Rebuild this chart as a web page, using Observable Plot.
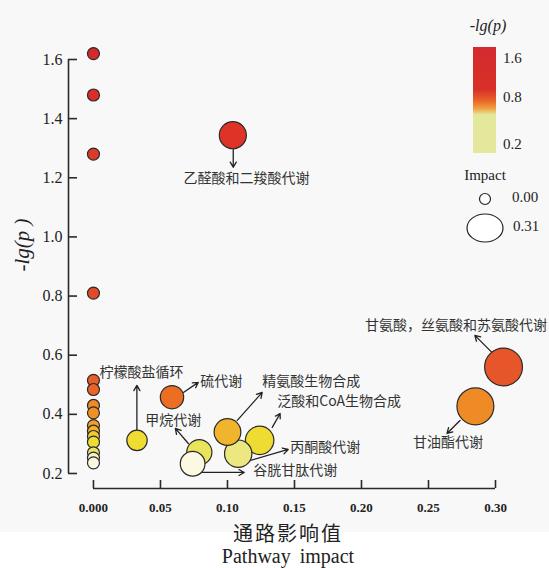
<!DOCTYPE html>
<html>
<head>
<meta charset="utf-8">
<script src="https://cdn.jsdelivr.net/npm/d3@7"></script>
<script src="https://cdn.jsdelivr.net/npm/@observablehq/plot@0.6"></script>
<style>
  body { margin: 0; background: #fff; }
  #wrap { position: relative; width: 549px; height: 568px; overflow: hidden; background: #fff; }
  #bg { position: absolute; left: 0; top: 0; width: 549px; height: 532px; background: #f8f8f8; }
  #chart { position: absolute; left: 0; top: 0; }
  #legend { position: absolute; left: 0; top: 0; pointer-events: none; }
  .title { position: absolute; left: 0; width: 576px; text-align: center; color: #222; }
  #xt1 { top: 520px; font-family: "Noto Sans CJK SC", sans-serif; font-size: 20px; letter-spacing: 2px; line-height: 26px; }
  #xt2 { top: 545px; font-family: "Liberation Serif", serif; font-size: 20px; line-height: 22px; word-spacing: 4px; }
  #yt { position: absolute; left: 22px; top: 245px; transform: translate(-50%, -50%) rotate(-90deg); font-family: "Liberation Serif", serif; font-style: italic; font-size: 21px; color: #222; white-space: nowrap; }
</style>
</head>
<body>
<div id="wrap">
  <div id="bg"></div>
  <div id="chart"></div>
  <svg id="legend" width="549" height="568"></svg>
  <div class="title" id="xt1">通路影响值</div>
  <div class="title" id="xt2">Pathway  impact</div>
  <div id="yt">-lg(p )</div>
</div>
<script>
// ---- data ----
const pathways = ["乙醛酸和二羧酸代谢", "柠檬酸盐循环", "硫代谢", "精氨酸生物合成", "泛酸和CoA生物合成", "丙酮酸代谢", "甲烷代谢", "谷胱甘肽代谢", "甘氨酸，丝氨酸和苏氨酸代谢", "甘油酯代谢"];
const pathwayImpact = [0.104, 0.0325, 0.0586, 0.100, 0.124, 0.108, 0.079, 0.074, 0.306, 0.285];
const pathwayLgP = [1.344, 0.312, 0.458, 0.340, 0.312, 0.267, 0.272, 0.233, 0.560, 0.427];
const zeroImpactLgP = [1.62, 1.48, 1.28, 0.81, 0.515, 0.484, 0.43, 0.405, 0.362, 0.343, 0.325, 0.306, 0.27, 0.252, 0.236];

// label annotation anchors (data units): label start, arrow start, arrow end
const labelX = [0.0671, 0.0045, 0.0797, 0.1259, 0.1371, 0.1468, 0.0387, 0.1192, 0.2027, 0.2385];
const labelY = [1.198, 0.5418, 0.5113, 0.5113, 0.4437, 0.288, 0.3794, 0.2102, 0.7008, 0.3049];
const arrowX1 = [0.1043, 0.0324, 0.0671, 0.1073, 0.1334, 0.1170, 0.0708, 0.0812, 0.2973, 0.2735];
const arrowY1 = [1.2965, 0.3455, 0.4741, 0.3794, 0.3557, 0.2440, 0.3015, 0.2034, 0.6095, 0.3794];
const arrowX2 = [0.1043, 0.0324, 0.0782, 0.1259, 0.1393, 0.1453, 0.0611, 0.1125, 0.2846, 0.2638];
const arrowY2 = [1.2355, 0.4978, 0.5080, 0.4741, 0.4030, 0.2812, 0.3523, 0.2034, 0.6670, 0.3354];

const xTicks = [0, 0.05, 0.10, 0.15, 0.20, 0.25, 0.30];
const xTickLabels = ["0.000", "0.05", "0.10", "0.15", "0.20", "0.25", "0.30"];
const yTicks = [0.2, 0.4, 0.6, 0.8, 1.0, 1.2, 1.4, 1.6];
const yTickLabels = ["0.2", "0.4", "0.6", "0.8", "1.0", "1.2", "1.4", "1.6"];

const colorStops = [0.23, 0.255, 0.268, 0.275, 0.31, 0.325, 0.345, 0.365, 0.43, 0.46, 0.5, 0.6, 0.85, 1.3, 1.35, 1.62];
const colorValues = ["#fcfae6", "#f6f2c4", "#ebe67a", "#e9e245", "#efde32", "#f0cc32", "#f0ae2c", "#f09c2a", "#ef8a26", "#eb6c22", "#e8602a", "#e4502a", "#e04a28", "#dd3a2a", "#df3228", "#d42a2e"];

const legendStops = [0.2, 0.8, 1.6];
const legendImpacts = [0.00, 0.31];

// ---- tables ----
const points = [
  ...zeroImpactLgP.map(v => ({impact: 0, lgp: v})),
  ...pathways.map((p, i) => ({impact: pathwayImpact[i], lgp: pathwayLgP[i]}))
];
const notes = pathways.map((p, i) => ({
  name: p, lx: labelX[i], ly: labelY[i],
  x1: arrowX1[i], y1: arrowY1[i], x2: arrowX2[i], y2: arrowY2[i]
}));

const W = 549, H = 530, mL = 68, mR = 54, mT = 59, mB = 42;
const xDomain = [-0.01863, 0.30];
const yDomain = [0.1492, 1.6];
const axisColor = "#2a2a2a";

const chart = Plot.plot({
  width: W,
  height: H,
  marginLeft: mL,
  marginRight: mR,
  marginTop: mT,
  marginBottom: mB,
  style: {background: "transparent", overflow: "visible"},
  x: {domain: xDomain},
  y: {domain: yDomain},
  r: {type: "pow", exponent: 0.5, domain: [0, 0.31], range: [6, 19]},
  color: {type: "linear", domain: colorStops, range: colorValues},
  marks: [
    Plot.ruleX([xDomain[0]], {y1: yTicks[0], y2: yTicks[yTicks.length - 1], stroke: axisColor, strokeWidth: 1.6}),
    Plot.ruleY([yDomain[0]], {x1: xTicks[0], x2: xTicks[xTicks.length - 1], stroke: axisColor, strokeWidth: 1.6}),
    // inward tick marks: axis ticks shifted back across the axis line
    Plot.axisX(xTicks, {tickSize: 8, dy: -8, text: null, stroke: axisColor, strokeWidth: 1.6, label: null}),
    Plot.axisY(yTicks, {tickSize: 9, dx: 9, text: null, stroke: axisColor, strokeWidth: 1.6, label: null}),
    Plot.axisX(xTicks, {tickSize: 0, tickPadding: 14, tickFormat: d => xTickLabels[xTicks.indexOf(d)], fontSize: 13, fontWeight: "bold", fontFamily: "Liberation Serif", fill: "#222", label: null}),
    Plot.axisY(yTicks, {tickSize: 0, tickPadding: 6, tickFormat: d => yTickLabels[yTicks.indexOf(d)], fontSize: 16, fontFamily: "Liberation Serif", fill: "#222", label: null}),
    Plot.arrow(notes, {x1: "x1", y1: "y1", x2: "x2", y2: "y2", stroke: "#222", strokeWidth: 1.3, headLength: 7}),
    Plot.dot(points, {x: "impact", y: "lgp", r: "impact", fill: "lgp", stroke: "#2a2a2a", strokeWidth: 1.2}),
    Plot.text(notes, {x: "lx", y: "ly", text: "name", textAnchor: "start", fontSize: 14, fill: "#333", fontFamily: "Noto Sans CJK SC"})
  ]
});
document.getElementById("chart").appendChild(chart);

// ---- legend ----
const lg = d3.select("#legend");
const defs = lg.append("defs");
const grad = defs.append("linearGradient").attr("id", "lgrad").attr("x1", 0).attr("y1", 1).attr("x2", 0).attr("y2", 0);
[[0, "#e4e89c"], [0.36, "#e4e89c"], [0.42, "#f0a040"], [0.5, "#e86028"], [0.6, "#d83028"], [1, "#d42a30"]]
  .forEach(([o, c]) => grad.append("stop").attr("offset", o).attr("stop-color", c));
const barTop = 47, barBottom = 153;
lg.append("text").attr("x", 488).attr("y", 27).attr("text-anchor", "middle").attr("dominant-baseline", "middle")
  .attr("font-family", "Liberation Serif").attr("font-style", "italic").attr("font-size", 16).attr("fill", "#222").text("-lg(p)");
lg.append("rect").attr("x", 473).attr("y", barTop).attr("width", 23).attr("height", barBottom - barTop).attr("fill", "url(#lgrad)");
const legY = [60, 99, 146];
legendStops.slice().reverse().forEach((v, i) => {
  lg.append("text").attr("x", 503).attr("y", legY[i]).attr("dominant-baseline", "middle")
    .attr("font-family", "Liberation Serif").attr("font-size", 15).attr("fill", "#222").text(v.toFixed(1));
});
lg.append("text").attr("x", 485).attr("y", 177).attr("text-anchor", "middle").attr("dominant-baseline", "middle")
  .attr("font-family", "Liberation Serif").attr("font-size", 15).attr("fill", "#222").text("Impact");
const cy = [199, 228];
legendImpacts.forEach((v, i) => {
  lg.append("ellipse").attr("cx", 485).attr("cy", cy[i]).attr("rx", i === 0 ? 5.5 : 18).attr("ry", i === 0 ? 5.5 : 14)
    .attr("fill", "#fff").attr("stroke", "#222").attr("stroke-width", 1.2);
  lg.append("text").attr("x", i === 0 ? 512 : 513).attr("y", cy[i]).attr("dominant-baseline", "middle")
    .attr("font-family", "Liberation Serif").attr("font-size", 15).attr("fill", "#222").text(v.toFixed(2));
});
</script>
</body>
</html>
